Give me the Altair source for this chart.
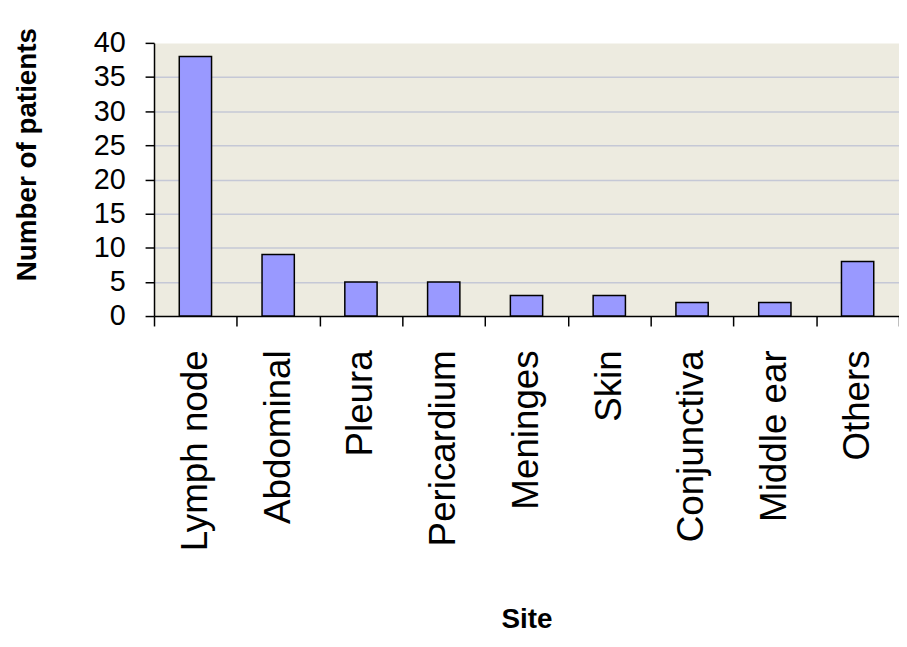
import altair as alt
import pandas as pd

sites = ["Lymph node", "Abdominal", "Pleura", "Pericardium", "Meninges",
         "Skin", "Conjunctiva", "Middle ear", "Others"]
patients = [38, 9, 5, 5, 3, 3, 2, 2, 8]
y_ticks = [0, 5, 10, 15, 20, 25, 30, 35, 40]

df = pd.DataFrame({"Site": sites, "Patients": patients})

FONT = "Liberation Sans"

chart = alt.Chart(df).mark_bar(
    width={"band": 0.39},
    fill="#9999FF",
    stroke="#000000",
    strokeWidth=1.5,
).encode(
    x=alt.X(
        "Site:N",
        sort=sites,
        scale=alt.Scale(paddingInner=0, paddingOuter=0),
        axis=alt.Axis(
            title="Site",
            labelAngle=-90,
            labelFont=FONT,
            labelFontSize=37,
            labelColor="#000000",
            labelPadding=24,
            labelLimit=400,
            tickBand="extent",
            tickSize=10,
            tickColor="#000000",
            tickWidth=1.5,
            domainColor="#000000",
            domainWidth=1.5,
            titleFont=FONT,
            titleFontSize=28,
            titleFontWeight="bold",
            titleColor="#000000",
            titleY=314,
            titleBaseline="alphabetic",
            labelOverlap=False,
        ),
    ),
    y=alt.Y(
        "Patients:Q",
        scale=alt.Scale(domain=[0, 40], nice=False),
        axis=alt.Axis(
            title="Number of patients",
            values=y_ticks,
            labelFont=FONT,
            labelFontSize=29,
            labelColor="#000000",
            labelPadding=20,
            tickSize=9,
            tickColor="#000000",
            tickWidth=1.5,
            domainColor="#000000",
            domainWidth=1.5,
            grid=True,
            gridColor="#C5C8D6",
            gridWidth=1.5,
            gridOpacity=alt.condition("datum.value == 40 || datum.value == 0",
                                      alt.value(0), alt.value(1)),
            titleFont=FONT,
            titleFontSize=28,
            titleFontWeight="bold",
            titleColor="#000000",
            titleX=-127,
            titleY=112,
            titleAngle=-90,
            titleAlign="center",
            titleBaseline="middle",
        ),
    ),
).properties(
    width=750,
    height=275,
    autosize="none",
    padding={"left": 147, "top": 33, "right": 0, "bottom": 321},
    background="#FFFFFF",
).configure_view(
    fill="#EDEBE0",
    stroke="transparent",
)

chart.save("out.html", embed_options={"renderer": "svg", "actions": False})
